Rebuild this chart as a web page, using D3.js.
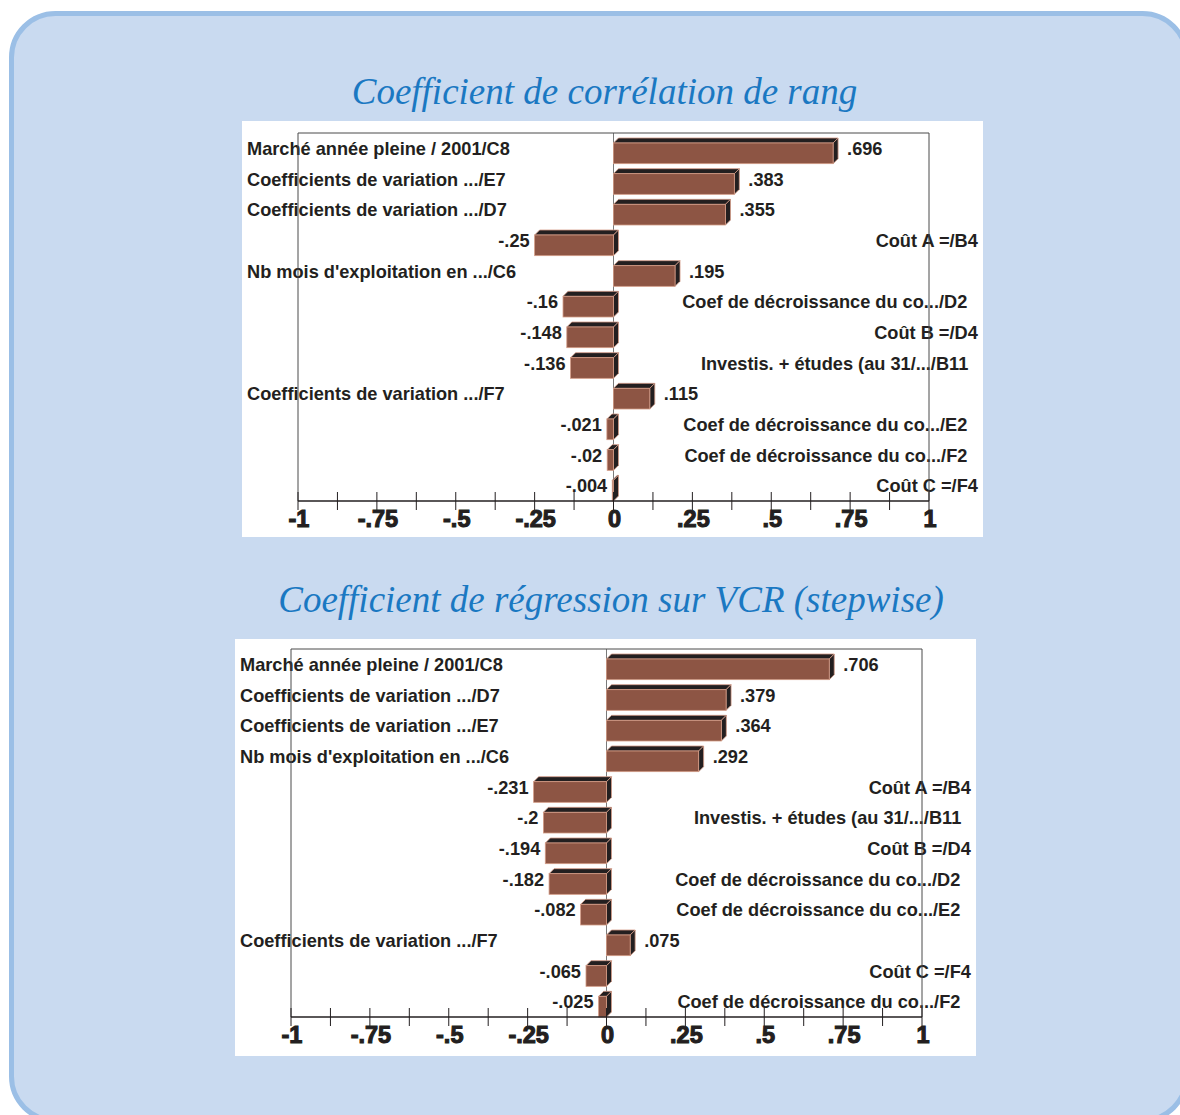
<!DOCTYPE html>
<html>
<head>
<meta charset="utf-8">
<script src="https://cdn.jsdelivr.net/npm/d3@7"></script>
<style>
  html, body { margin: 0; padding: 0; background: #ffffff; }
  svg { display: block; }
</style>
</head>
<body>
<svg id="chart" width="1180" height="1115"></svg>
<script>
// ---------------- DATA ----------------
const title1 = "Coefficient de corrélation de rang";
const categories1 = [
  "Marché année pleine / 2001/C8",
  "Coefficients de variation .../E7",
  "Coefficients de variation .../D7",
  "Coût A =/B4",
  "Nb mois d'exploitation en .../C6",
  "Coef de décroissance du co.../D2",
  "Coût B =/D4",
  "Investis. + études (au 31/.../B11",
  "Coefficients de variation .../F7",
  "Coef de décroissance du co.../E2",
  "Coef de décroissance du co.../F2",
  "Coût C =/F4"
];
const values1 = [0.696, 0.383, 0.355, -0.25, 0.195, -0.16, -0.148, -0.136, 0.115, -0.021, -0.02, -0.004];

const title2 = "Coefficient de régression sur VCR (stepwise)";
const categories2 = [
  "Marché année pleine / 2001/C8",
  "Coefficients de variation .../D7",
  "Coefficients de variation .../E7",
  "Nb mois d'exploitation en .../C6",
  "Coût A =/B4",
  "Investis. + études (au 31/.../B11",
  "Coût B =/D4",
  "Coef de décroissance du co.../D2",
  "Coef de décroissance du co.../E2",
  "Coefficients de variation .../F7",
  "Coût C =/F4",
  "Coef de décroissance du co.../F2"
];
const values2 = [0.706, 0.379, 0.364, 0.292, -0.231, -0.2, -0.194, -0.182, -0.082, 0.075, -0.065, -0.025];

const majorTicks = [-1, -0.75, -0.5, -0.25, 0, 0.25, 0.5, 0.75, 1];
const tickLabels = ["-1", "-.75", "-.5", "-.25", "0", ".25", ".5", ".75", "1"];
const minorTicks = [-0.875, -0.625, -0.375, -0.125, 0.125, 0.375, 0.625, 0.875];

// ---------------- STYLE / LAYOUT ----------------
const cardFill = "#c9daf0";
const cardStroke = "#9bbfe6";
const titleColor = "#1a78c2";
const textColor = "#231f20";
const barFront = "#8d5544";
const barDark = "#231f20";
const barEdge = "#d39b86";

const svg = d3.select("#chart");

// background card
svg.append("rect")
  .attr("x", 11.5).attr("y", 13.5)
  .attr("width", 1175).attr("height", 1107)
  .attr("rx", 44).attr("ry", 44)
  .attr("fill", cardFill)
  .attr("stroke", cardStroke)
  .attr("stroke-width", 5);

function fmt(v) {
  return String(v).replace("0.", ".");
}

function drawChart(cfg) {
  const { title, titleX, titleY, cats, vals, panel, xRange, yTop, yAxis } = cfg;
  const g = svg.append("g");

  g.append("text")
    .attr("x", titleX).attr("y", titleY)
    .attr("text-anchor", "middle")
    .attr("font-family", "'Liberation Serif', 'Times New Roman', serif")
    .attr("font-style", "italic")
    .attr("font-size", 37)
    .attr("fill", titleColor)
    .text(title);

  g.append("rect")
    .attr("x", panel[0]).attr("y", panel[1])
    .attr("width", panel[2]).attr("height", panel[3])
    .attr("fill", "#ffffff");

  const x = d3.scaleLinear().domain([-1, 1]).range(xRange);
  const y = d3.scaleBand().domain(cats).range([yTop, yAxis]).padding(0);
  const bw = y.bandwidth();
  const depth = 5;
  const frontOff = 10;
  const frontH = bw - frontOff;

  // zero line
  g.append("line")
    .attr("x1", x(0)).attr("x2", x(0))
    .attr("y1", yTop).attr("y2", yAxis)
    .attr("stroke", "#7a7a7a").attr("stroke-width", 1);

  const data = cats.map((c, i) => ({ c, v: vals[i] }));

  // labels
  const font = "'Liberation Sans', Arial, Helvetica, sans-serif";
  const rows = g.selectAll("g.row").data(data).join("g").attr("class", "row");

  const rightEdge = panel[0] + panel[2] - 5;
  rows.append("text")
    .attr("x", d => d.v >= 0 ? panel[0] + 5 : rightEdge)
    .attr("y", d => y(d.c) + bw / 2 + 6.5)
    .attr("text-anchor", d => d.v >= 0 ? "start" : "end")
    .attr("font-family", font)
    .attr("font-weight", "bold")
    .attr("font-size", 18.2)
    .attr("fill", textColor)
    .text(d => d.c)
    .each(function(d) {
      if (d.v < 0) {
        // the original right-aligned labels drift left with their length
        const len = this.getComputedTextLength();
        const shift = Math.max(0, 0.058 * (len - 100));
        d3.select(this).attr("x", rightEdge - shift);
      }
    });

  rows.append("text")
    .attr("x", d => d.v >= 0 ? x(d.v) + depth + 9 : x(d.v) - 5)
    .attr("y", d => y(d.c) + bw / 2 + 6.5)
    .attr("text-anchor", d => d.v >= 0 ? "start" : "end")
    .attr("font-family", font)
    .attr("font-weight", "bold")
    .attr("font-size", 18.2)
    .attr("fill", textColor)
    .text(d => fmt(d.v));

  // 3D bars
  const bars = g.selectAll("g.bar").data(data).join("g").attr("class", "bar");
  bars.each(function(d) {
    const gb = d3.select(this);
    const x0 = x(Math.min(0, d.v));
    const x1 = x(Math.max(0, d.v));
    const t = y(d.c) + frontOff;
    const b = t + frontH;
    gb.append("polygon")
      .attr("points", [[x0, t], [x0 + depth, t - depth], [x1 + depth, t - depth], [x1, t]].map(p => p.join(",")).join(" "))
      .attr("fill", barDark).attr("stroke", barEdge).attr("stroke-width", 0.8).attr("stroke-linejoin", "round");
    gb.append("polygon")
      .attr("points", [[x1, t], [x1 + depth, t - depth], [x1 + depth, b - depth], [x1, b]].map(p => p.join(",")).join(" "))
      .attr("fill", barDark).attr("stroke", barEdge).attr("stroke-width", 0.8).attr("stroke-linejoin", "round");
    gb.append("rect")
      .attr("x", x0).attr("y", t)
      .attr("width", Math.max(0.5, x1 - x0)).attr("height", frontH)
      .attr("fill", barFront).attr("stroke", barEdge).attr("stroke-width", 0.8);
  });

  // frame (drawn over text as in reference)
  g.append("path")
    .attr("d", `M${x(-1)},${yAxis} V${yTop} H${x(1)} V${yAxis}`)
    .attr("fill", "none")
    .attr("stroke", "#4a4a4a")
    .attr("stroke-width", 1);

  // axis
  const ax = g.append("g");
  ax.append("line")
    .attr("x1", x(-1)).attr("x2", x(1))
    .attr("y1", yAxis).attr("y2", yAxis)
    .attr("stroke", textColor).attr("stroke-width", 1.5);
  ax.selectAll("line.tick").data(majorTicks.concat(minorTicks)).join("line")
    .attr("class", "tick")
    .attr("x1", d => x(d)).attr("x2", d => x(d))
    .attr("y1", yAxis - 9).attr("y2", yAxis + 9)
    .attr("stroke", textColor).attr("stroke-width", 1);
  ax.selectAll("text.tl").data(majorTicks).join("text")
    .attr("class", "tl")
    .attr("x", d => x(d) + 1)
    .attr("y", yAxis + 26)
    .attr("text-anchor", "middle")
    .attr("font-family", font)
    .attr("font-weight", "bold")
    .attr("font-size", 23.5)
    .attr("fill", textColor)
    .attr("stroke", textColor)
    .attr("stroke-width", 1.1)
    .text((d, i) => tickLabels[i]);
}

drawChart({
  title: title1, titleX: 604.5, titleY: 104,
  cats: categories1, vals: values1,
  panel: [242, 121, 741, 416],
  xRange: [298, 929], yTop: 133, yAxis: 501
});

drawChart({
  title: title2, titleX: 611, titleY: 612,
  cats: categories2, vals: values2,
  panel: [235, 639, 741, 417],
  xRange: [291, 922], yTop: 649, yAxis: 1017
});
</script>
</body>
</html>
